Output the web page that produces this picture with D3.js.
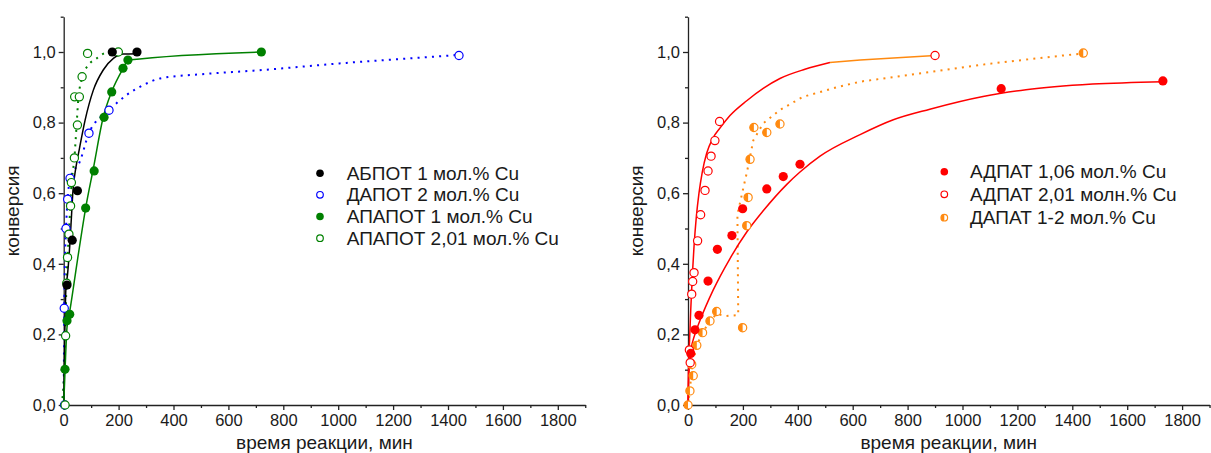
<!DOCTYPE html>
<html>
<head>
<meta charset="utf-8">
<script src="https://cdn.jsdelivr.net/npm/d3@7"></script>
<style>
  body { margin: 0; background: #fff; }
  svg { display: block; }
  text { font-family: "Liberation Sans", Arial, sans-serif; fill: #1a1a1a; }
</style>
</head>
<body>
<svg id="chart" width="1211" height="453"></svg>
<script>
// ---- axis ticks ----
const xMajorTicks = [0, 200, 400, 600, 800, 1000, 1200, 1400, 1600, 1800];
const xMinorTicks = [100, 300, 500, 700, 900, 1100, 1300, 1500, 1700, 1900];
const yMajorTicks = [0, 0.2, 0.4, 0.6, 0.8, 1.0];
const yMinorTicks = [0.1, 0.3, 0.5, 0.7, 0.9, 1.1];
const xTitle = "время реакции, мин";
const yTitle = "конверсия";

// ---- left panel: measured points [time, conversion] ----
const abpot1Pts = [[12, 0.34], [31, 0.467], [50, 0.607], [177, 1.0], [267, 1.0]];
const dapot2Pts = [[3, 0], [2, 0.274], [8.4, 0.5], [14.5, 0.583], [23, 0.642], [92, 0.77], [165, 0.835], [1440, 0.99]];
const apapot1Pts = [[4.7, 0.101], [12, 0.239], [22, 0.257], [80, 0.558], [111, 0.663], [147, 0.815], [175, 0.887], [216, 0.954], [234, 0.977], [720, 1.0]];
const apapot201Pts = [[5, 0], [7, 0.196], [11, 0.345], [14, 0.418], [19, 0.484], [25, 0.564], [28, 0.63], [39, 0.70], [50, 0.793], [40, 0.873], [57, 0.873], [67, 0.93], [87, 0.996], [199, 1.0]];

// ---- left panel: fitted curves ----
const abpot1Fit = [[0, 0], [4, 0.2], [8, 0.33], [14, 0.37], [22, 0.45], [28, 0.53], [33, 0.6], [45, 0.675], [57, 0.725], [78, 0.807], [108, 0.892], [144, 0.949], [181, 0.982], [217, 0.994], [267, 0.995]];
const dapot2Fit = [[0, 0], [2, 0.274], [5, 0.42], [8.4, 0.5], [14.5, 0.583], [23, 0.642], [59, 0.69], [92, 0.77], [165, 0.835], [229, 0.878], [300, 0.91], [351, 0.925], [500, 0.937], [690, 0.947], [1043, 0.97], [1407, 0.99], [1440, 0.992]];
const apapot1Fit = [[0, 0], [5, 0.1], [12, 0.22], [23, 0.27], [50, 0.41], [80, 0.558], [108, 0.67], [144, 0.815], [175, 0.888], [217, 0.954], [235, 0.977], [720, 1.0]];
const apapot201Fit = [[-8, 0], [2, 0.1], [6, 0.2], [10, 0.345], [14, 0.42], [19, 0.485], [24, 0.565], [29, 0.63], [39, 0.70], [47, 0.793], [53, 0.864], [68, 0.93], [90, 0.963], [120, 0.982], [150, 0.997], [175, 1.0]];

// ---- right panel: measured points ----
const adpat106Pts = [[10, 0.146], [25.5, 0.213], [40, 0.254], [73, 0.351], [107, 0.441], [160, 0.48], [199, 0.556], [287, 0.612], [347, 0.647], [408, 0.682], [1141, 0.896], [1730, 0.918]];
const adpat201Pts = [[5, 0.156], [8, 0.12], [13.5, 0.314], [17, 0.35], [22, 0.375], [35, 0.465], [46, 0.539], [62, 0.608], [73, 0.663], [84, 0.705], [98, 0.749], [115, 0.803], [900, 0.99]];
const dapat12Pts = [[0, 0], [7, 0.04], [19, 0.083], [13.5, 0.115], [32, 0.169], [53, 0.205], [80, 0.238], [104.5, 0.265], [199, 0.219], [214, 0.508], [219, 0.588], [226, 0.696], [240, 0.786], [287, 0.772], [335, 0.796], [1440, 0.997]];

// ---- right panel: fitted curves ----
const adpat106Fit = [[0, 0], [3, 0.08], [10, 0.15], [25, 0.2], [44, 0.24], [92, 0.326], [153, 0.415], [214, 0.49], [274, 0.55], [360, 0.625], [408, 0.66], [481, 0.705], [627, 0.766], [748, 0.808], [881, 0.838], [1075, 0.874], [1231, 0.893], [1474, 0.909], [1730, 0.916]];
const adpat201Fit = [[0, 0], [1, 0.07], [5, 0.17], [10, 0.27], [16, 0.37], [22, 0.45], [30, 0.53], [40, 0.6], [52, 0.66], [68, 0.713], [90, 0.755], [117, 0.785], [153, 0.82], [214, 0.862], [274, 0.897], [335, 0.925], [426, 0.951], [517, 0.97]];
const adpat201Tail = [[517, 0.97], [627, 0.977], [900, 0.99]];
const dapat12Fit = [[0, 0], [7, 0.04], [13, 0.1], [32, 0.169], [53, 0.205], [80, 0.238], [104, 0.258], [140, 0.252], [183, 0.255], [180, 0.54], [208, 0.637], [214, 0.657], [238, 0.75], [274, 0.798], [335, 0.836], [419, 0.873], [542, 0.9], [627, 0.916], [868, 0.942], [1111, 0.968], [1353, 0.989], [1440, 0.996]];

// ---- legend entries ----
const leftLegend = ["АБПОТ 1 мол.% Cu", "ДАПОТ 2 мол.% Cu", "АПАПОТ 1 мол.% Cu", "АПАПОТ 2,01 мол.% Cu"];
const rightLegend = ["АДПАТ 1,06 мол.% Cu", "АДПАТ 2,01 молн.% Cu", "ДАПАТ 1-2 мол.% Cu"];

const COL = { black: "#000000", blue: "#0000ff", green: "#008000", red: "#ff0000", orange: "#ff8a10" };

const svg = d3.select("#chart");
const fmt = v => d3.format(".1f")(v).replace(".", ",");

function makePanel(x0) {
  const g = svg.append("g");
  const x = d3.scaleLinear().domain([0, 1900]).range([x0, x0 + 0.2745 * 1900]);
  const y = d3.scaleLinear().domain([0, 1.1]).range([405, 16.7]);

  // x axis
  g.append("g").attr("transform", "translate(0,405)")
    .call(d3.axisBottom(x).tickValues(xMinorTicks).tickSize(3).tickSizeOuter(0).tickFormat(""))
    .call(a => a.select(".domain").remove());
  const xa = g.append("g").attr("transform", "translate(0,405)")
    .call(d3.axisBottom(x).tickValues(xMajorTicks).tickSize(5).tickSizeOuter(0).tickPadding(4).tickFormat(d3.format("d")));
  xa.selectAll("text").attr("font-size", 16.5).attr("fill", "#1a1a1a");

  // y axis
  g.append("g").attr("transform", `translate(${x0},0)`)
    .call(d3.axisLeft(y).tickValues(yMinorTicks).tickSize(3).tickSizeOuter(0).tickFormat(""))
    .call(a => a.select(".domain").remove());
  const ya = g.append("g").attr("transform", `translate(${x0},0)`)
    .call(d3.axisLeft(y).tickValues(yMajorTicks).tickSize(5).tickSizeOuter(0).tickPadding(3).tickFormat(fmt));
  ya.selectAll("text").attr("font-size", 16.5).attr("fill", "#1a1a1a");

  g.selectAll(".domain, .tick line").attr("stroke", "#222").attr("stroke-width", 1.3);

  // titles
  g.append("text").attr("x", (x.range()[0] + x.range()[1]) / 2).attr("y", 449)
    .attr("text-anchor", "middle").attr("font-size", 19).text(xTitle);
  g.append("text").attr("transform", `translate(${x0 - 45},${(y(0) + y(1.1)) / 2}) rotate(-90)`)
    .attr("text-anchor", "middle").attr("font-size", 19).text(yTitle);

  return { g, x, y };
}

function drawLine(p, data, color, dotted, curve) {
  const line = d3.line().x(d => p.x(d[0])).y(d => p.y(d[1])).curve(curve || d3.curveMonotoneX);
  p.g.append("path").datum(data)
    .attr("d", line).attr("fill", "none").attr("stroke", color)
    .attr("stroke-width", dotted ? 2 : 1.5)
    .attr("stroke-dasharray", dotted ? "2,5.2" : null);
}

function drawMarkers(p, data, color, kind) {
  const grp = p.g.append("g");
  data.forEach(d => marker(grp, p.x(d[0]), p.y(d[1]), color, kind, 4.6));
}

function marker(grp, cx, cy, color, kind, r) {
  if (kind === "filled") {
    grp.append("circle").attr("cx", cx).attr("cy", cy).attr("r", r).attr("fill", color);
  } else if (kind === "open") {
    grp.append("circle").attr("cx", cx).attr("cy", cy).attr("r", r - 0.5)
      .attr("fill", "#fff").attr("stroke", color).attr("stroke-width", 1.2);
  } else {
    // half-filled: left half solid, right half white
    grp.append("circle").attr("cx", cx).attr("cy", cy).attr("r", r - 0.5)
      .attr("fill", "#fff").attr("stroke", color).attr("stroke-width", 1.2);
    const rr = r - 0.5;
    grp.append("path")
      .attr("d", `M${cx},${cy - rr} A${rr},${rr} 0 0,0 ${cx},${cy + rr} Z`)
      .attr("fill", color);
  }
}

function legend(p, entries, styles, mx, tx, rows) {
  entries.forEach((t, i) => {
    marker(p.g, mx, rows[i], styles[i][0], styles[i][1], 3.8);
    p.g.append("text").attr("x", tx).attr("y", rows[i] + 6.5).attr("font-size", 19).text(t);
  });
}

// ---- left panel ----
const L = makePanel(63.7);
drawLine(L, dapot2Fit, COL.blue, true);
drawLine(L, apapot201Fit, COL.green, true);
drawLine(L, abpot1Fit, COL.black, false);
drawLine(L, apapot1Fit, COL.green, false);
drawMarkers(L, dapot2Pts, COL.blue, "open");
drawMarkers(L, apapot201Pts, COL.green, "open");
drawMarkers(L, abpot1Pts, COL.black, "filled");
drawMarkers(L, apapot1Pts, COL.green, "filled");
legend(L, leftLegend,
  [[COL.black, "filled"], [COL.blue, "open"], [COL.green, "filled"], [COL.green, "open"]],
  320, 346.7, [173.3, 194.8, 216.5, 238.2]);

// ---- right panel ----
const R = makePanel(688);
drawLine(R, dapat12Fit, COL.orange, true, d3.curveLinear);
drawLine(R, adpat201Tail, COL.orange, false, d3.curveLinear);
drawLine(R, adpat106Fit, COL.red, false);
drawLine(R, adpat201Fit, COL.red, false);
drawMarkers(R, dapat12Pts, COL.orange, "half");
drawMarkers(R, adpat201Pts, COL.red, "open");
drawMarkers(R, adpat106Pts, COL.red, "filled");
legend(R, rightLegend,
  [[COL.red, "filled"], [COL.red, "open"], [COL.orange, "half"]],
  944.3, 970, [171.7, 194.3, 217.7]);
</script>
</body>
</html>
